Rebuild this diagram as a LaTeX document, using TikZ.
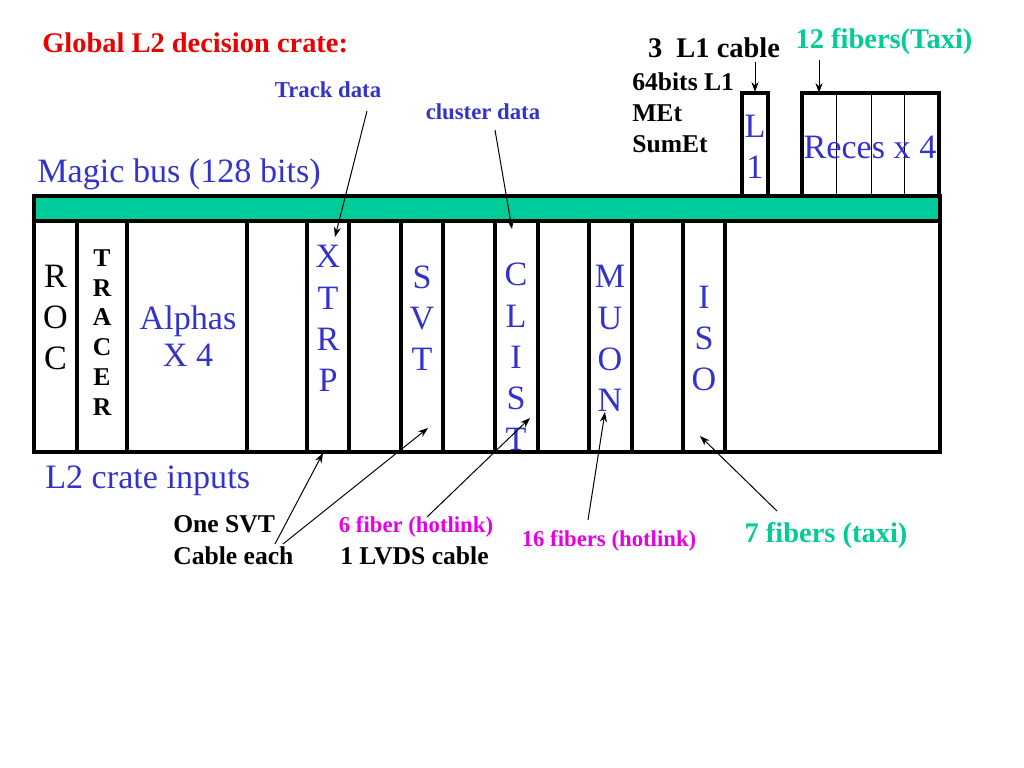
\documentclass[tikz,border=0pt]{standalone}
\usepackage{fontspec}
\setmainfont{Liberation Serif}
\usetikzlibrary{arrows.meta,positioning}
\definecolor{crateblue}{RGB}{51,51,204}
\definecolor{busgreen}{RGB}{0,204,153}
\definecolor{hotpink}{RGB}{230,0,230}
\definecolor{titlered}{RGB}{235,0,0}

\begin{document}
\begin{tikzpicture}[
  x=0.703125pt, y=-0.703125pt,
  >={Stealth[length=7pt,width=5pt]},
  big/.style={text=crateblue,font=\fontsize{24}{29}\selectfont,align=center,inner sep=0pt},
  note/.style={font=\bfseries\fontsize{16}{19}\selectfont,inner sep=0pt},
  cable/.style={font=\bfseries\fontsize{18}{22.5}\selectfont,align=left,inner sep=0pt},
  frame/.style={line width=2.5pt},
  feed/.style={->,line width=0.7pt},
]
\useasboundingbox (0,0) rectangle (1024,768);

% magic bus and the crate
\fill[busgreen] (34,196) rectangle (940,221);
\draw[frame] (34,196) rectangle (940,452);
\draw[frame] (34,221) -- (940,221);
\foreach \x in {77,127,247,307,349,401,443,495,538,589,632,683,725}
  \draw[frame] (\x,221) -- (\x,452);

% boards on top of the bus
\draw[frame] (742,196) -- (742,93) -- (768,93) -- (768,196);
\draw[frame] (802,196) -- (802,93) -- (939,93) -- (939,196);
\foreach \x in {836,871,904}
  \draw[line width=0.7pt] (\x,93) -- (\x,196);

% slot labels
\node[big,text=black] (roc) at (55.5,317.5) {R\\O\\C};
\node[font=\bfseries\fontsize{18}{21}\selectfont,align=center,inner sep=0pt] (tracer) at (102,332.5) {T\\R\\A\\C\\E\\R};
\node[big,font=\fontsize{24}{26}\selectfont] (alphas) at (188,336) {Alphas\\X 4};
\node[big] (xtrp)  at (328,318.5) {X\\T\\R\\P};
\node[big] (svt)   at (422,318)   {S\\V\\T};
\node[big] (clist) at (516,357)   {C\\L\\I\\S\\T};
\node[big] (muon)  at (610,338.5) {M\\U\\O\\N};
\node[big] (iso)   at (704,338.5) {I\\S\\O};
\node[big] (l1)    at (755,146.5) {L\\1};
\node[big] (reces) at (870,147)   {Reces x 4};

% texts
\node[anchor=west,text=titlered,font=\bfseries\fontsize{20}{24}\selectfont,inner sep=0pt] (title) at (42,43) {Global L2 decision crate:};
\node[big,anchor=west] (bus) at (37,174) {Magic bus (128 bits)};
\node[big,anchor=west] (inputs) at (45,481) {L2 crate inputs};
\node[note,text=crateblue] (track)   at (328,90)  {Track data};
\node[note,text=crateblue] (cluster) at (483,112) {cluster data};
\node[font=\bfseries\fontsize{20}{24}\selectfont,inner sep=0pt] (l1cable) at (714,48) {3\ \ L1 cable};
\node[font=\bfseries\fontsize{20}{24}\selectfont,text=busgreen,inner sep=0pt] (taxi) at (884,42) {12 fibers(Taxi)};
\node[cable,anchor=north west,font=\bfseries\fontsize{18}{22}\selectfont] (met) at (632,72) {64bits L1\\MEt\\SumEt};
\node[cable,anchor=west] (onesvt) at (173,540) {One SVT\\Cable each};
\node[note,text=hotpink] (hot6) at (416,527) {6 fiber (hotlink)};
\node[cable,anchor=west] (lvds) at (340,556) {1 LVDS cable};
\node[note,text=hotpink] (hot16) at (609,541) {16 fibers (hotlink)};
\node[font=\bfseries\fontsize{20}{24}\selectfont,text=busgreen,inner sep=0pt] (taxi7) at (826,536) {7 fibers (taxi)};

% where the cables go in
\coordinate (xtrp-top) at (335,237);
\coordinate (clist-top) at (512,229);
\coordinate (l1-in) at (755,92);
\coordinate (reces-in) at (819,93);
\coordinate (xtrp-in) at (323,453);
\coordinate (svt-in) at (428,428);
\coordinate (clist-in) at (530,418);
\coordinate (muon-in) at (605,412);
\coordinate (iso-in) at (700,436);

\draw[feed] ([shift={(39,21)}]track.center) -- (xtrp-top);
\draw[feed] ([shift={(12,18)}]cluster.center) -- (clist-top);
\draw[feed] ([shift={(41,14)}]l1cable.center) -- (l1-in);
\draw[feed] ([shift={(-65,18)}]taxi.center) -- (reces-in);
\draw[feed] ([shift={(102,4)}]onesvt.west) -- (xtrp-in);
\draw[feed] ([shift={(110,4)}]onesvt.west) -- (svt-in);
\draw[feed] ([shift={(11,-10)}]hot6.center) -- (clist-in);
\draw[feed] ([shift={(-21,-21)}]hot16.center) -- (muon-in);
\draw[feed] ([shift={(-49,-25)}]taxi7.center) -- (iso-in);
\end{tikzpicture}
\end{document}
